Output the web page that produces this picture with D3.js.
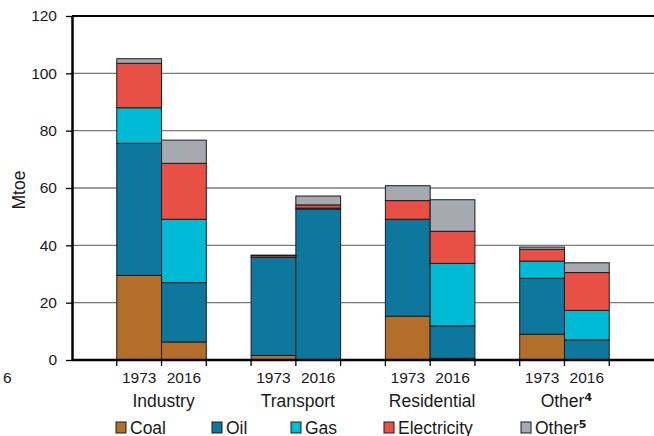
<!DOCTYPE html>
<html>
<head>
<meta charset="utf-8">
<script src="https://cdn.jsdelivr.net/npm/d3@7"></script>
<style>
  body { margin: 0; background: #fff; }
  text { font-family: "Liberation Sans", Arial, sans-serif; fill: #1a1a1a; }
</style>
</head>
<body>
<div id="chart"></div>
<script>
// data, bar order: Industry 1973, Industry 2016, Transport 1973, Transport 2016, ...
var sectors = ["Industry", "Transport", "Residential", "Other\u2074"];
var years = ["1973", "2016"];
var fuels = ["Coal", "Oil", "Gas", "Electricity", "Other\u2075"];
var coal        = [29.5,  6.3,  1.6,  0.0, 15.3,  0.6,  9.0,  0.0];
var oil         = [46.1, 20.7, 34.2, 52.6, 33.8, 11.3, 19.5,  7.0];
var gas         = [12.4, 22.1,  0.0,  0.4,  0.0, 21.8,  6.0, 10.3];
var electricity = [15.5, 19.5,  0.6,  1.1,  6.5, 11.2,  4.1, 13.2];
var otherFuel   = [ 1.6,  8.1,  0.2,  3.1,  5.2, 11.0,  0.8,  3.4];
var yTicks = [0, 20, 40, 60, 80, 100, 120];

var colors = ["#b36f2a", "#0e779e", "#00bbd6", "#e95045", "#a7a9b0"];
var series = [coal, oil, gas, electricity, otherFuel];

var W = 654, H = 436;
var margin = { left: 72, right: 654, top: 16, bottom: 360 };

var svg = d3.select("#chart").append("svg")
  .attr("width", W).attr("height", H);

// slots: gap, 1973, 2016, gap, ...
var slots = [];
var bars = [];
sectors.forEach(function (s, i) {
  slots.push("gap" + i);
  years.forEach(function (yr, j) {
    var key = s + "|" + yr;
    slots.push(key);
    var row = { key: key, sector: s, year: yr };
    fuels.forEach(function (f, k) { row[f] = series[k][i * 2 + j]; });
    bars.push(row);
  });
});
slots.push("gapEnd");

var x = d3.scaleBand().domain(slots).range([margin.left, margin.right]).padding(0);
var y = d3.scaleLinear().domain([0, 120]).range([margin.bottom, margin.top]);

// writes a label, putting a trailing superscript digit in a font that has it
function label(sel, str) {
  var last = str.slice(-1);
  if (last === "\u2074" || last === "\u2075") {
    sel.text(str.slice(0, -1));
    sel.append("tspan")
      .style("font-family", "'DejaVu Sans', sans-serif")
      .style("font-weight", "bold")
      .style("font-size", "18px")
      .text(last);
  } else {
    sel.text(str);
  }
}

// gridlines
svg.append("g").selectAll("line")
  .data(yTicks.filter(function (d) { return d > 0 && d < 120; }))
  .enter().append("line")
  .attr("x1", margin.left).attr("x2", margin.right)
  .attr("y1", function (d) { return y(d); })
  .attr("y2", function (d) { return y(d); })
  .attr("stroke", "#7a7a7a").attr("stroke-width", 1.3);

// stacked bars
var stack = d3.stack().keys(fuels);
var layers = stack(bars);

svg.append("g").selectAll("g")
  .data(layers)
  .enter().append("g")
  .attr("fill", function (d, i) { return colors[i]; })
  .selectAll("rect")
  .data(function (d) { return d.filter(function (p) { return p[1] - p[0] > 0; }); })
  .enter().append("rect")
  .attr("x", function (d) { return x(d.data.key); })
  .attr("width", x.bandwidth())
  .attr("y", function (d) { return y(d[1]); })
  .attr("height", function (d) { return y(d[0]) - y(d[1]); })
  .attr("stroke", "#1c1c1c")
  .attr("stroke-width", 1);

// top frame line
svg.append("line")
  .attr("x1", margin.left).attr("x2", margin.right)
  .attr("y1", margin.top).attr("y2", margin.top)
  .attr("stroke", "#000").attr("stroke-width", 2);

// y axis
var yAxis = svg.append("g")
  .attr("transform", "translate(" + margin.left + ",0)")
  .call(d3.axisLeft(y).tickValues(yTicks).tickSize(6).tickPadding(9).tickSizeOuter(0));
yAxis.select(".domain").attr("stroke", "#000").attr("stroke-width", 2.5);
yAxis.selectAll(".tick line").attr("stroke", "#000").attr("stroke-width", 1.3);
yAxis.selectAll("text").style("font-size", "15.5px")
  .style("font-family", "'Liberation Sans', Arial, sans-serif").attr("fill", "#1a1a1a");

// x axis line and ticks at slot boundaries
svg.append("line")
  .attr("x1", margin.left).attr("x2", margin.right)
  .attr("y1", margin.bottom).attr("y2", margin.bottom)
  .attr("stroke", "#000").attr("stroke-width", 2.5);

svg.append("g").selectAll("line")
  .data(slots.slice(1))
  .enter().append("line")
  .attr("x1", function (d) { return x(d); })
  .attr("x2", function (d) { return x(d); })
  .attr("y1", margin.bottom).attr("y2", margin.bottom + 6)
  .attr("stroke", "#000").attr("stroke-width", 1.3);

// year labels
svg.append("g").selectAll("text")
  .data(bars)
  .enter().append("text")
  .attr("x", function (d) { return x(d.key) + x.bandwidth() / 2; })
  .attr("y", 383)
  .attr("text-anchor", "middle")
  .style("font-size", "15.5px")
  .text(function (d) { return d.year; });

// sector labels
svg.append("g").selectAll("text")
  .data(sectors)
  .enter().append("text")
  .attr("x", function (d) { return x(d + "|" + years[1]) + 2; })
  .attr("y", 407)
  .attr("text-anchor", "middle")
  .style("font-size", "17.5px")
  .each(function (d) { label(d3.select(this), d); });

// stray label at left edge
svg.append("text").attr("x", 3).attr("y", 383)
  .style("font-size", "15.5px").text("6");

// y title
svg.append("text")
  .attr("transform", "translate(25,190) rotate(-90)")
  .attr("text-anchor", "middle")
  .style("font-size", "17.5px")
  .text("Mtoe");

// legend
var legendX = [116, 212, 291, 384, 521];
var legend = svg.append("g").selectAll("g")
  .data(fuels)
  .enter().append("g")
  .attr("transform", function (d, i) { return "translate(" + legendX[i] + ",422)"; });
legend.append("rect")
  .attr("width", 10).attr("height", 11)
  .attr("fill", function (d, i) { return colors[i]; })
  .attr("stroke", "#1c1c1c").attr("stroke-width", 1);
legend.append("text")
  .attr("x", 14).attr("y", 11.5)
  .style("font-size", "17.5px")
  .each(function (d) { label(d3.select(this), d); });
</script>
</body>
</html>
